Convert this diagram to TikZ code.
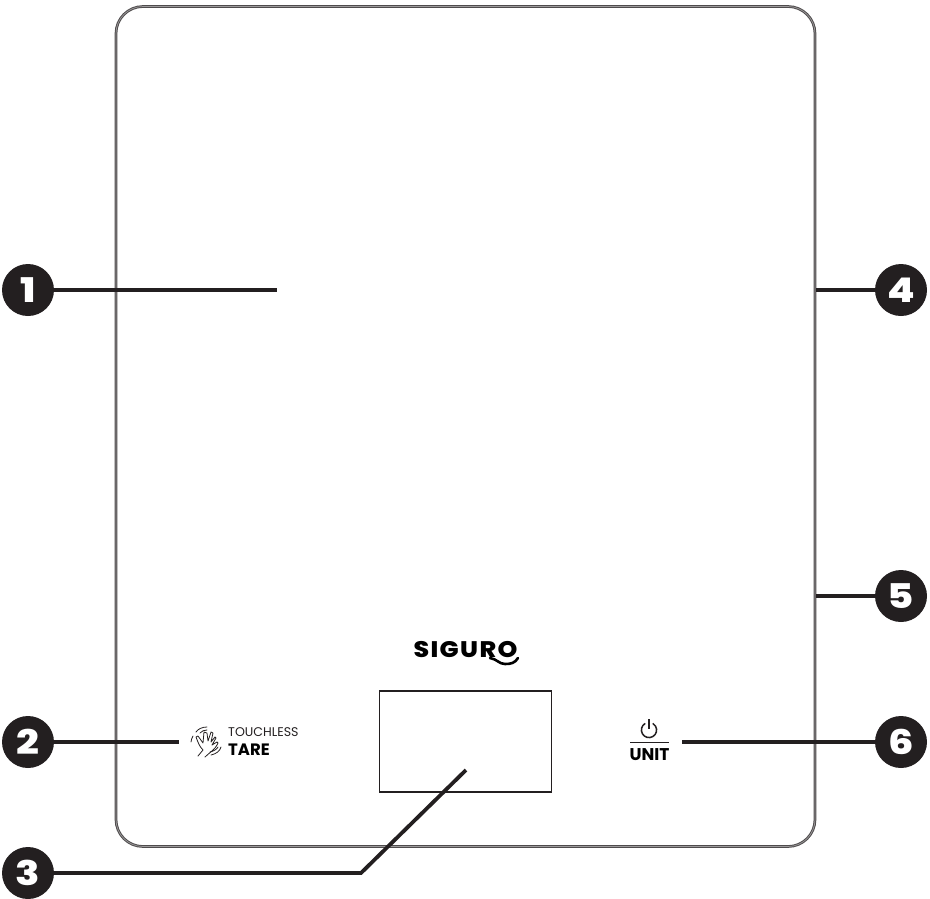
\documentclass[tikz,border=0pt]{standalone}
\usepackage{fontspec}
\setmainfont{Poppins}
\newfontfamily\numfont[FakeStretch=1.18,BoldFont={Poppins ExtraBold}]{Poppins}
\newfontfamily\logofont[FakeStretch=1.12,BoldFont={Poppins ExtraBold}]{Poppins}
\usetikzlibrary{positioning, calc}
\definecolor{myInk}{RGB}{35,31,32}
\tikzset{
	numdot/.style={circle, fill=myInk, text=white, minimum size=52pt, inner sep=0pt, font=\numfont\fontsize{34}{34}\selectfont\bfseries},
	leader/.style={myInk, line width=3.8pt},
	thinleader/.style={myInk, line width=3.3pt},
	iconline/.style={myInk, line width=0.8pt, line cap=round, line join=round}
}

\begin{document}
\begin{tikzpicture}[x=1pt, y=-1pt]
	\useasboundingbox (0,0) rectangle (930,898);
	% Scale outline and display
	\node[draw=myInk!80, line width=1pt, double=white!55!myInk, double distance=0.7pt, rounded corners=27pt, minimum width=699pt, minimum height=840pt, inner sep=0pt] (board) at (465.5,426.5) {};
	\node[draw=myInk, line width=1.1pt, minimum width=172pt, minimum height=101pt, inner sep=0pt] (display) at (465.5,741.5) {};
	% Printed labels
	\node[inner sep=0pt, font=\logofont\fontsize{22.5}{24}\selectfont\bfseries, text=black] (logo) at (465.5,650) {S\kern1.4pt I\kern1.4pt G\kern1.4pt U\kern1.4pt R\kern1.4pt O};
	\draw[black, line width=2.6pt, line cap=round] (490,658) .. controls (497,659) and (499,664) .. (505,664) .. controls (511,664) and (515,663) .. (518,658);
	\node[inner sep=0pt, anchor=west, font=\fontsize{12.6}{13}\selectfont\color{myInk}] (touchless) at (228,732) {TOUCHLESS};
	\node[inner sep=0pt, anchor=west, font=\fontsize{16.5}{17}\selectfont\bfseries, text=black] (tare) at (228,750) {TARE};
	\node[inner sep=0pt, font=\fontsize{17}{17}\selectfont\bfseries, text=black] (unit) at (649.5,755) {UNIT};
	% Hand icon
	\draw[iconline] (198,756) -- (203,750) .. controls (199,746) and (198,742) .. (196,737) -- (198,736) -- (203,743) -- (204,732) -- (207,733) -- (208,741) -- (211,732) -- (213,733) -- (211,742) -- (215,737) -- (216,738) -- (212,745) -- (217,742) -- (218,743) .. controls (215,750) and (210,752) .. (205,757);
	\draw[iconline] (196,732) .. controls (198,729) and (202,727) .. (207,727);
	\draw[iconline] (191,742) .. controls (191,740) and (192,738) .. (193,736);
	\draw[iconline] (200,733) .. controls (202,731) and (204,730) .. (207,730);
	\draw[iconline] (211,755) .. controls (216,754) and (220,751) .. (221,747);
	\draw[iconline] (210,752) .. controls (214,751) and (217,749) .. (218,747);
	% Power icon
	\draw[myInk, line width=1.5pt] (645.2,723.4) arc[start angle=240, end angle=-60, radius=7.6];
	\draw[myInk, line width=1.5pt] (649,719) -- (649,729);
	\draw[myInk, line width=1.5pt] (630,742.5) -- (669,742.5);
	% Numbered callouts
	\node[numdot] (num1) at (28,290) {1};
	\node[numdot] (num2) at (28,742) {2};
	\node[numdot] (num3) at (28,873) {3};
	\node[numdot] (num4) at (901,290) {4};
	\node[numdot] (num5) at (901,596) {5};
	\node[numdot] (num6) at (901,742) {6};
	\coordinate (tip1) at (277,290);
	\coordinate (tip2) at (179,742);
	\coordinate (bend3) at (361,873);
	\coordinate (tip3) at (466,770);
	\coordinate (tip6) at (682,742);
	\draw[leader] (num1) -- (tip1);
	\draw[leader] (num2) -- (tip2);
	\draw[leader] (num3) -- (bend3) -- (tip3);
	\draw[leader] (num6) -- (tip6);
	\draw[thinleader] (num4) -- (num4 -| board.east);
	\draw[thinleader] (num5) -- (num5 -| board.east);
\end{tikzpicture}
\end{document}
